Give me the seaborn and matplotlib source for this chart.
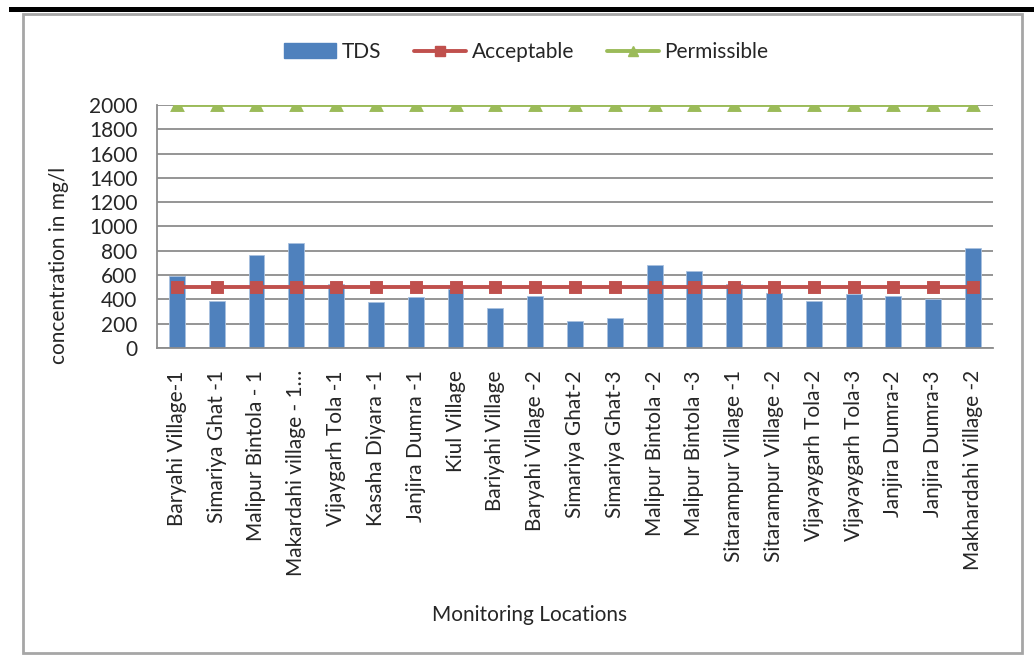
import matplotlib
matplotlib.use("Agg")
import matplotlib.pyplot as plt
from matplotlib.patches import Patch, Rectangle
from matplotlib.lines import Line2D
import seaborn as sns
import pandas as pd

# Chart data
locations = ["Baryahi Village-1", "Simariya Ghat -1", "Malipur Bintola - 1",
             "Makardahi village - 1\u2026", "Vijaygarh Tola -1", "Kasaha Diyara -1",
             "Janjira Dumra -1", "Kiul Village", "Bariyahi Village", "Baryahi Village -2",
             "Simariya Ghat-2", "Simariya Ghat-3", "Malipur Bintola -2", "Malipur Bintola -3",
             "Sitarampur Village -1", "Sitarampur Village -2", "Vijayaygarh Tola-2",
             "Vijayaygarh Tola-3", "Janjira Dumra-2", "Janjira Dumra-3", "Makhardahi Village -2"]
tds = [590, 384, 762, 865, 530, 380, 420, 485, 330, 430, 220,
       250, 680, 630, 530, 455, 390, 445, 430, 405, 827]
acceptable = [500, 500, 500, 500, 500, 500, 500, 500, 500, 500, 500,
              500, 500, 500, 500, 500, 500, 500, 500, 500, 500]
permissible = [2000, 2000, 2000, 2000, 2000, 2000, 2000, 2000, 2000, 2000, 2000,
               2000, 2000, 2000, 2000, 2000, 2000, 2000, 2000, 2000, 2000]
y_ticks = [0, 200, 400, 600, 800, 1000, 1200, 1400, 1600, 1800, 2000]

df = pd.DataFrame({"loc": locations, "TDS": tds,
                   "Acceptable": acceptable, "Permissible": permissible})

sns.set_style("white")
plt.rcParams["font.family"] = ["Lato", "DejaVu Sans"]

blue = "#4F81BD"
red = "#C0504D"
green = "#9BBB59"
grid_grey = "#8C8C8C"
fs = 15

fig = plt.figure(figsize=(10.34, 6.59), dpi=100)
ax = fig.add_axes([0.1518, 0.4719, 0.8085, 0.3688])

sns.barplot(data=df, x="loc", y="TDS", color=blue, width=0.4, saturation=1,
            edgecolor="#A9C1DF", linewidth=0.6, ax=ax, zorder=2)
sns.pointplot(data=df, x="loc", y="Acceptable", color=red, markers="s",
              errorbar=None, linewidth=2.8, markersize=6.8, ax=ax, zorder=3)
sns.pointplot(data=df, x="loc", y="Permissible", color=green, markers="^",
              errorbar=None, linewidth=2.8, markersize=6.8, ax=ax, zorder=3)

ax.set_xlim(-0.5, len(locations) - 0.5)
ax.set_ylim(0, 2000)
ax.set_yticks(y_ticks)
ax.set_yticklabels([str(v) for v in y_ticks], fontsize=fs)
ax.yaxis.grid(True, color=grid_grey, linewidth=1.3, zorder=0)
ax.set_axisbelow(True)

ax.set_xticks(range(len(locations)))
ax.set_xticklabels(locations, rotation=90, fontsize=fs)
ax.set_xticks([i - 0.5 for i in range(len(locations) + 1)], minor=True)
ax.tick_params(axis="x", which="major", length=0, pad=16)
ax.tick_params(axis="x", which="minor", length=6, width=1.3, color=grid_grey, direction="out")
ax.tick_params(axis="y", length=6, width=1.3, color=grid_grey, direction="out", pad=8)

for side in ["top", "right"]:
    ax.spines[side].set_visible(False)
for side in ["left", "bottom"]:
    ax.spines[side].set_color(grid_grey)
    ax.spines[side].set_linewidth(1.3)

ax.set_xlabel("")
ax.set_ylabel("")
fig.text(0.057, 0.597, "concentration in mg/l", rotation=90, fontsize=fs,
         ha="center", va="center")
fig.text(0.512, 0.067, "Monitoring Locations", fontsize=fs, ha="center", va="center")

handles = [Patch(facecolor=blue, edgecolor=blue),
           Line2D([], [], color=red, linewidth=2.8, marker="s", markersize=7),
           Line2D([], [], color=green, linewidth=2.8, marker="^", markersize=7)]
fig.legend(handles, ["TDS", "Acceptable", "Permissible"], loc="center",
           bbox_to_anchor=(0.509, 0.921), ncol=3, frameon=False, fontsize=fs,
           handlelength=2.5, handleheight=0.7, handletextpad=0.25, columnspacing=1.6)

# outer frame like the source document
fig.add_artist(Rectangle((9 / 1034, 1 - 12 / 659), 1 - 9 / 1034, 5 / 659,
                         transform=fig.transFigure, facecolor="black", edgecolor="none"))
fig.add_artist(Rectangle((23 / 1034, 1 - 653 / 659), 999 / 1034, 639 / 659,
                         transform=fig.transFigure, facecolor="none",
                         edgecolor="#A6A6A6", linewidth=2))

fig.savefig("out.png", dpi=100)
